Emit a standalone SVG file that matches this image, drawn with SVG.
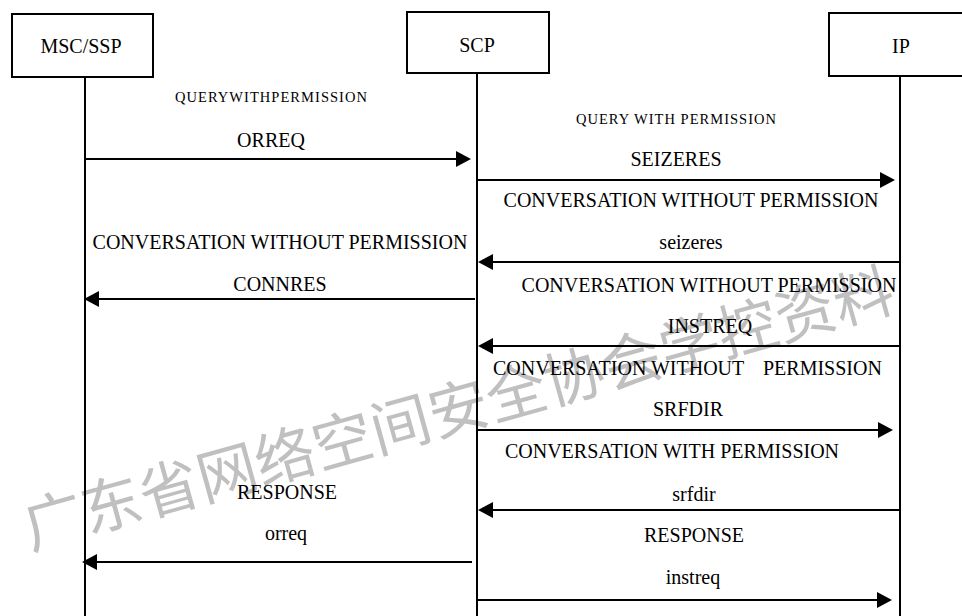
<svg xmlns="http://www.w3.org/2000/svg" width="962" height="616" viewBox="0 0 962 616">
<defs>
<style>
.box{fill:#fff;stroke:#000;stroke-width:2}
.life{stroke:#000;stroke-width:2;fill:none}
.msg{stroke:#000;stroke-width:2;fill:none;marker-end:url(#ah)}
.t{font-family:'Liberation Serif','DejaVu Serif',serif;font-size:20px;fill:#000;text-anchor:middle}
.s{font-family:'Liberation Serif','DejaVu Serif',serif;font-size:14.5px;fill:#000;text-anchor:middle}
.wm{font-family:'Noto Sans CJK SC',sans-serif;font-size:60px;fill:#c0c0c0;text-anchor:middle;dominant-baseline:central}
</style>
<marker id="ah" markerUnits="userSpaceOnUse" viewBox="0 0 15 16" refX="12" refY="8" markerWidth="15" markerHeight="16" orient="auto">
<path d="M0,0 L15,8 L0,16 Z" fill="#000"/>
</marker>
</defs>
<rect width="962" height="616" fill="#fff"/>
<text class="wm" x="457" y="404" transform="rotate(-15.5 457 404)">广东省网络空间安全协会学控资料</text>
<g id="lifelines">
<line class="life" x1="85" y1="77" x2="85" y2="616"/>
<line class="life" x1="477" y1="73" x2="477" y2="616"/>
<line class="life" x1="900" y1="76" x2="900" y2="616"/>
</g>
<g id="node-msc">
<rect class="box" x="12" y="14" width="141" height="63"/>
<text class="t" x="81" y="53">MSC/SSP</text>
</g>
<g id="node-scp">
<rect class="box" x="407" y="12" width="142" height="61"/>
<text class="t" x="477" y="52">SCP</text>
</g>
<g id="node-ip">
<rect class="box" x="829" y="13" width="140" height="63"/>
<text class="t" x="901" y="53">IP</text>
</g>
<g id="connectors">
<line class="msg" x1="85" y1="159" x2="468" y2="159"/>
<line class="msg" x1="477" y1="180" x2="892" y2="180"/>
<line class="msg" x1="899" y1="262" x2="481" y2="262"/>
<line class="msg" x1="475" y1="299" x2="87" y2="299"/>
<line class="msg" x1="899" y1="346" x2="481" y2="346"/>
<line class="msg" x1="477" y1="430" x2="890" y2="430"/>
<line class="msg" x1="899" y1="510" x2="481" y2="510"/>
<line class="msg" x1="472" y1="562" x2="85" y2="562"/>
<line class="msg" x1="477" y1="600" x2="889" y2="600"/>
</g>
<g id="labels">
<text class="s" x="271" y="102" textLength="192" lengthAdjust="spacing">QUERYWITHPERMISSION</text>
<text class="t" x="271" y="147">ORREQ</text>
<text class="s" x="676" y="124" textLength="200" lengthAdjust="spacing">QUERY WITH PERMISSION</text>
<text class="t" x="676" y="166">SEIZERES</text>
<text class="t" x="691" y="207">CONVERSATION WITHOUT PERMISSION</text>
<text class="t" x="691" y="249">seizeres</text>
<text class="t" x="280" y="249">CONVERSATION WITHOUT PERMISSION</text>
<text class="t" x="280" y="291">CONNRES</text>
<text class="t" x="709" y="292">CONVERSATION WITHOUT PERMISSION</text>
<text class="t" x="710" y="333">INSTREQ</text>
<text class="t" x="493" y="375" style="text-anchor:start">CONVERSATION WITHOUT <tspan x="763">PERMISSION</tspan></text>
<text class="t" x="688" y="416">SRFDIR</text>
<text class="t" x="672" y="458">CONVERSATION WITH PERMISSION</text>
<text class="t" x="694" y="501">srfdir</text>
<text class="t" x="287" y="499">RESPONSE</text>
<text class="t" x="286" y="540">orreq</text>
<text class="t" x="694" y="542">RESPONSE</text>
<text class="t" x="693" y="584">instreq</text>
</g>
</svg>
